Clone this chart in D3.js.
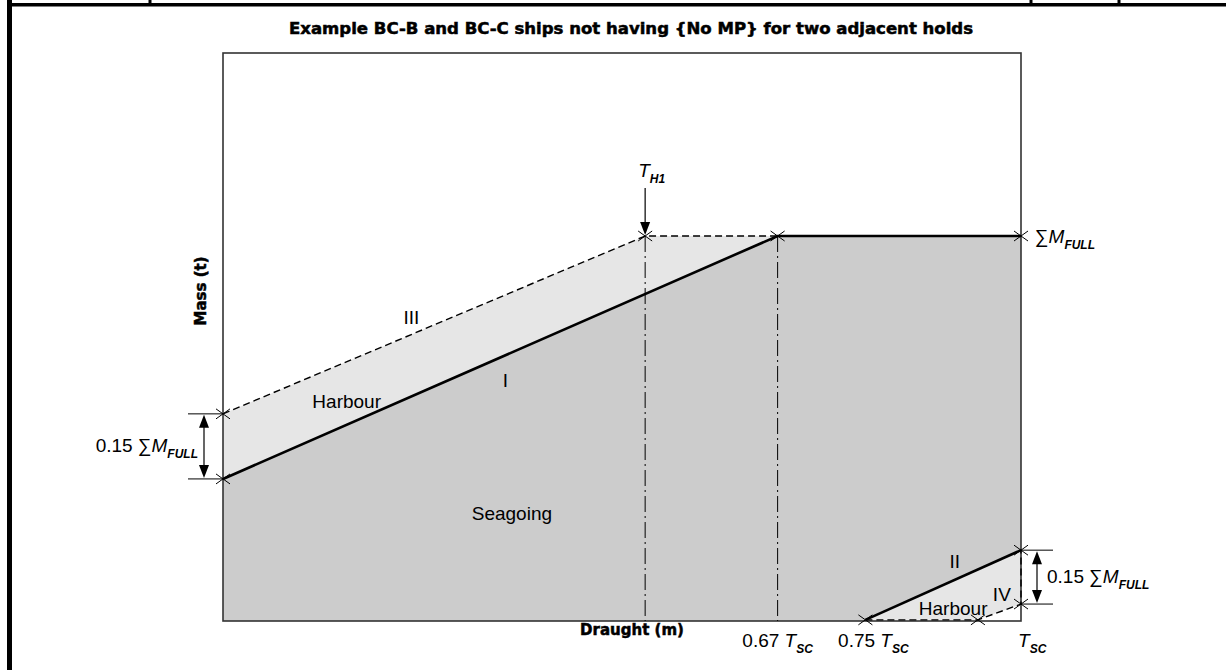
<!DOCTYPE html>
<html><head><meta charset="utf-8">
<script src="https://cdn.jsdelivr.net/npm/d3@7"></script>
<style>body{margin:0;background:#fff;} svg{display:block;}</style>
</head><body>
<svg id="c" width="1226" height="670"></svg>
<script>
// ---------- data (schematic; x = % of plot width, y = % of ΣM_FULL) ----------
const titleText = "Example BC-B and BC-C ships not having {No MP} for two adjacent holds";
const xTitle = "Draught (m)";
const yTitle = "Mass (t)";
const draughtLabels = ["0.67", "0.75", ""];
const draughtTickPos = [69.5, 80.5, 100];
const draughtLabelShift = [0, 1.0, 1.4];
const th1Pos = 52.9;
const lineI = [[0, 36.9], [69.5, 100], [100, 100]];
const lineIII = [[0, 53.8], [52.9, 100], [69.5, 100]];
const lineII = [[80.5, 0.3], [100, 18.4]];
const lineIV = [[80.5, 0.3], [94.6, 0.3], [100, 4.4], [100, 18.4]];
const seagoingArea = [[0, 0], [0, 36.9], [69.5, 100], [100, 100], [100, 18.4], [80.5, 0.3], [80.5, 0]];
const harbourArea1 = [[0, 36.9], [0, 53.8], [52.9, 100], [69.5, 100]];
const harbourArea2 = [[80.5, 0.3], [100, 18.4], [100, 4.4], [94.6, 0.3]];
const verticalRefs = [52.9, 69.5];
const crossPoints = [[0, 53.8], [0, 36.9], [52.9, 100], [69.5, 100], [100, 100], [80.5, 0.3], [94.6, 0.3], [100, 4.4], [100, 18.4]];
const regionLabels = ["III", "I", "Harbour", "Seagoing", "II", "IV", "Harbour"];
const regionLabelPos = [[23.6, 78.5], [35.4, 62.0], [15.5, 56.5], [36.2, 27.5], [91.7, 15.0], [97.6, 6.5], [91.5, 2.8]];
const dimLeft = [36.9, 53.8];
const dimRight = [4.4, 18.4];
const dimText = "0.15 ";

// ---------- layout ----------
const svg = d3.select("#c");
const L = 223, R = 1021, T = 53, B = 621;
const x = d3.scaleLinear().domain([0, 100]).range([L, R]);
const y = d3.scaleLinear().domain([0, 100]).range([B, 236]);
const yTop = y.invert(T);

// page frame
svg.append("rect").attr("x", 7).attr("y", 0).attr("width", 5).attr("height", 670).attr("fill", "#000");
svg.append("rect").attr("x", 7).attr("y", 3).attr("width", 1219).attr("height", 3.5).attr("fill", "#000");
[150, 1031, 1119].forEach(px => svg.append("rect").attr("x", px - 1.5).attr("y", 0).attr("width", 3).attr("height", 4).attr("fill", "#000"));

// title
svg.append("text").attr("x", 631).attr("y", 34).attr("text-anchor", "middle")
  .attr("font-family", "DejaVu Sans").attr("font-weight", "bold").attr("font-size", 15)
  .attr("stroke", "#000").attr("stroke-width", 0.5)
  .attr("textLength", 684).attr("lengthAdjust", "spacingAndGlyphs")
  .text(titleText);

const line = d3.line().x(d => x(d[0])).y(d => y(d[1]));
const poly = pts => line(pts) + "Z";

// fills
svg.append("path").attr("d", poly(seagoingArea)).attr("fill", "#cccccc");
svg.append("path").attr("d", poly(harbourArea1)).attr("fill", "#e6e6e6");
svg.append("path").attr("d", poly(harbourArea2)).attr("fill", "#e6e6e6");

// box
svg.append("rect").attr("x", x(0)).attr("y", y(yTop)).attr("width", x(100) - x(0)).attr("height", y(0) - y(yTop))
  .attr("fill", "none").attr("stroke", "#333").attr("stroke-width", 1.6);

// dash-dot verticals
verticalRefs.forEach(v => svg.append("line").attr("x1", x(v)).attr("x2", x(v)).attr("y1", y(100)).attr("y2", y(0))
  .attr("stroke", "#000").attr("stroke-width", 1).attr("stroke-dasharray", "16,4,2,4"));

// lines
svg.append("path").attr("d", line(lineIII)).attr("fill", "none").attr("stroke", "#000").attr("stroke-width", 1.4).attr("stroke-dasharray", "7,4");
svg.append("path").attr("d", line(lineIV)).attr("fill", "none").attr("stroke", "#000").attr("stroke-width", 1.4).attr("stroke-dasharray", "7,4");
svg.append("path").attr("d", line(lineI)).attr("fill", "none").attr("stroke", "#000").attr("stroke-width", 2.6);
svg.append("path").attr("d", line(lineII)).attr("fill", "none").attr("stroke", "#000").attr("stroke-width", 2.6);

// crosses
crossPoints.forEach(p => {
  const cx = x(p[0]), cy = y(p[1]);
  svg.append("path").attr("d", `M${cx-7},${cy-5}L${cx+7},${cy+5}M${cx-7},${cy+5}L${cx+7},${cy-5}`)
    .attr("stroke", "#000").attr("stroke-width", 1).attr("fill", "none");
});

// arrowheads
function arrowHead(px, py, dir) { // dir: 1 = pointing down, -1 = up
  svg.append("path").attr("d", `M${px},${py}L${px-5},${py - dir*13}L${px+5},${py - dir*13}Z`).attr("fill", "#000");
}

// T_H1 arrow
svg.append("line").attr("x1", x(th1Pos)).attr("x2", x(th1Pos)).attr("y1", 188).attr("y2", y(100) - 6).attr("stroke", "#000").attr("stroke-width", 1.2);
arrowHead(x(th1Pos), y(100) - 1, 1);

function subLabel(g, px, py, parts, anchor) {
  const t = g.append("text").attr("x", px).attr("y", py).attr("font-family", "Liberation Sans").attr("fill", "#000")
    .attr("text-anchor", anchor || "start");
  parts.forEach(pt => {
    const s = t.append("tspan").text(pt.t).attr("font-size", pt.sub ? 12 : 19);
    if (pt.it) s.attr("font-style", "italic");
    if (pt.sub) { s.attr("font-weight", "bold").attr("dy", 6); }
  });
  return t;
}

// T_H1 label
subLabel(svg, x(th1Pos) - 7, 177, [{t: "T", it: 1}, {t: "H1", it: 1, sub: 1}]);

// ΣM_FULL at right
subLabel(svg, 1035, 243, [{t: "\u2211"}, {t: "M", it: 1}, {t: "FULL", it: 1, sub: 1}]);

// left dimension
const dlx = 204;
dimLeft.forEach(v => svg.append("line").attr("x1", 188).attr("x2", x(0)).attr("y1", y(v)).attr("y2", y(v)).attr("stroke", "#000").attr("stroke-width", 1));
svg.append("line").attr("x1", dlx).attr("x2", dlx).attr("y1", y(dimLeft[1]) + 8).attr("y2", y(dimLeft[0]) - 8).attr("stroke", "#000").attr("stroke-width", 1.2);
arrowHead(dlx, y(dimLeft[1]) + 1, -1);
arrowHead(dlx, y(dimLeft[0]) - 1, 1);
subLabel(svg, 198, 452, [{t: dimText + "\u2211"}, {t: "M", it: 1}, {t: "FULL", it: 1, sub: 1}], "end");

// right dimension
const drx = 1037;
dimRight.forEach(v => svg.append("line").attr("x1", x(100)).attr("x2", 1053).attr("y1", y(v)).attr("y2", y(v)).attr("stroke", "#000").attr("stroke-width", 1));
svg.append("line").attr("x1", drx).attr("x2", drx).attr("y1", y(dimRight[1]) + 8).attr("y2", y(dimRight[0]) - 8).attr("stroke", "#000").attr("stroke-width", 1.2);
arrowHead(drx, y(dimRight[1]) + 1, -1);
arrowHead(drx, y(dimRight[0]) - 1, 1);
subLabel(svg, 1047, 583, [{t: dimText + "\u2211"}, {t: "M", it: 1}, {t: "FULL", it: 1, sub: 1}]);

// region labels
regionLabels.forEach((s, i) => {
  svg.append("text").attr("x", x(regionLabelPos[i][0])).attr("y", y(regionLabelPos[i][1]))
    .attr("text-anchor", "middle").attr("dominant-baseline", "middle")
    .attr("font-family", "Liberation Sans").attr("font-size", 19).attr("fill", "#000").text(s);
});

// axis titles
svg.append("text").attr("x", 632).attr("y", 635).attr("text-anchor", "middle")
  .attr("font-family", "DejaVu Sans").attr("font-weight", "bold").attr("font-size", 15)
  .attr("stroke", "#000").attr("stroke-width", 0.5).text(xTitle);
svg.append("text").attr("transform", "translate(206,291) rotate(-90)").attr("text-anchor", "middle")
  .attr("font-family", "DejaVu Sans").attr("font-weight", "bold").attr("font-size", 15)
  .attr("stroke", "#000").attr("stroke-width", 0.5).text(yTitle);

// draught tick labels
draughtTickPos.forEach((v, i) => {
  const parts = [];
  if (draughtLabels[i]) parts.push({t: draughtLabels[i] + " "});
  parts.push({t: "T", it: 1}); parts.push({t: "SC", it: 1, sub: 1});
  subLabel(svg, x(v + draughtLabelShift[i]), 647, parts, "middle");
});
</script>
</body></html>
